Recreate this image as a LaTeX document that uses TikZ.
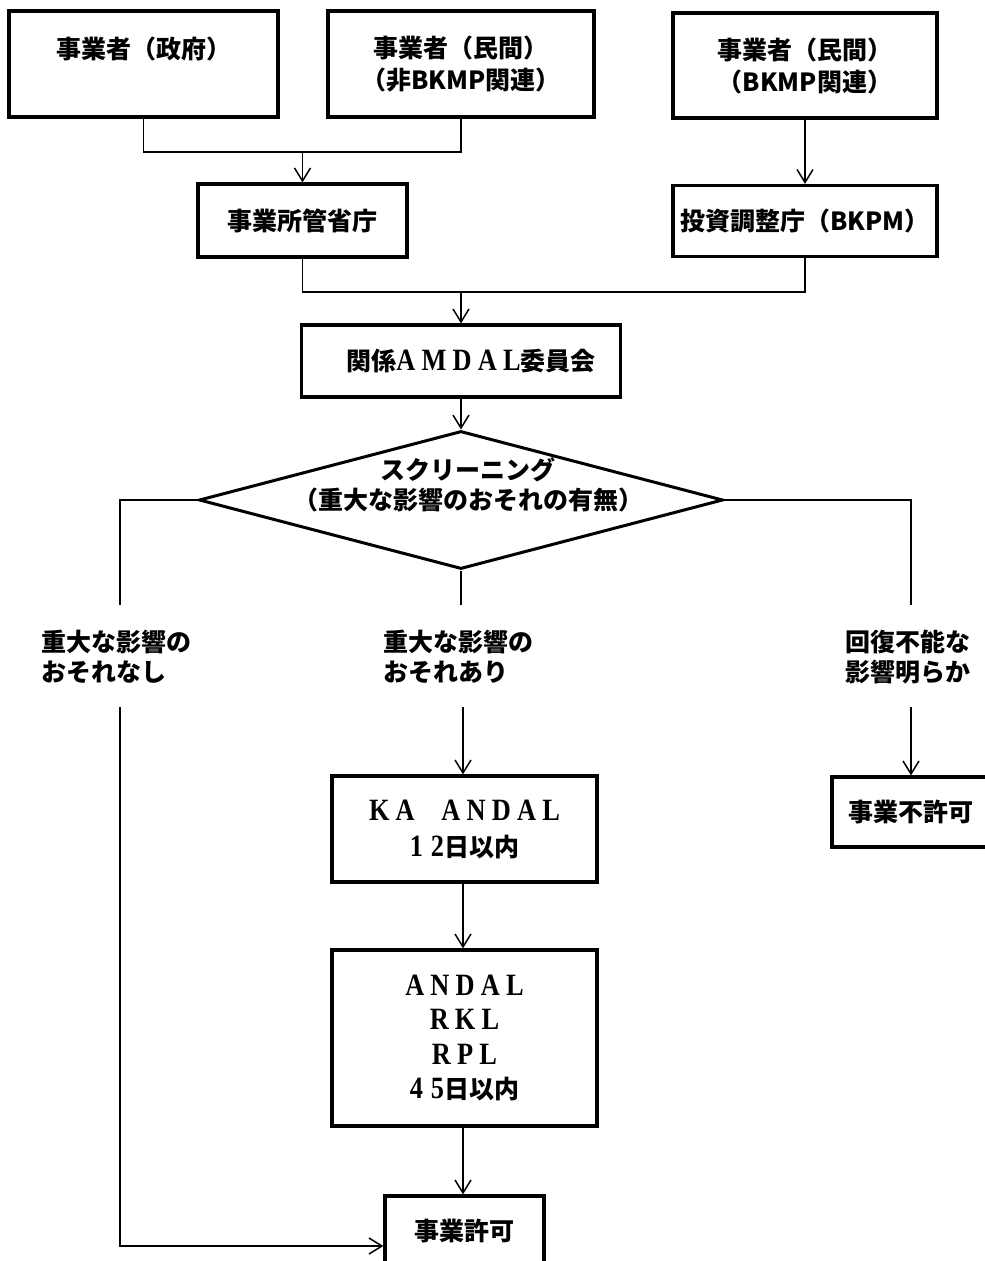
\documentclass[tikz,border=0pt]{standalone}
\usepackage{fontspec}
\setmainfont{Noto Sans CJK JP}
\newfontfamily\latfont{Liberation Serif}[LetterSpace=20,FakeStretch=0.85]
\newcommand\lt[1]{{\latfont\bfseries\fontsize{31}{31}\selectfont #1}}
\usetikzlibrary{shapes.geometric,arrows.meta}
\begin{document}
\begin{tikzpicture}[x=1pt,y=-1pt,
  font=\fontsize{25}{32}\selectfont\bfseries,
  box/.style={draw, line width=3.2pt, inner sep=0pt, align=center},
  conn/.style={line width=1.5pt},
  arr/.style={conn, -{Straight Barb[length=13pt,width=16pt]}},
  lbl/.style={align=left, anchor=west, inner sep=0pt, font=\fontsize{25}{30}\selectfont\bfseries}]
\fill[white] (0,0) rectangle (985,1261);
\useasboundingbox (0,0) rectangle (985,1261);
\clip (0,0) rectangle (985,1261);
% boxes
\node[box, minimum width=269pt, minimum height=106pt] (b1) at (143.5,64) {事業者（政府）\\\mbox{}};
\node[box, minimum width=266pt, minimum height=106pt] (b2) at (461,64) {事業者（民間）\\（非BKMP関連）};
\node[box, minimum width=264pt, minimum height=105pt] (b3) at (805,65.5) {事業者（民間）\\（BKMP関連）};
\node[box, minimum width=209pt, minimum height=73pt] (kansho) at (302.5,220.5) {事業所管省庁};
\node[box, minimum width=264pt, minimum height=71pt] (bkpm) at (805,221) {投資調整庁（BKPM）};
\node[box, minimum width=319pt, minimum height=72pt] (amdal) at (461,361) {\hspace*{20pt}関係\lt{AMDAL}委員会};
\node[draw, diamond, line width=3pt, minimum width=524pt, minimum height=138pt, inner sep=0pt] (scr) at (461,500) {};
\node[align=center, inner sep=0pt, font=\fontsize{25}{30}\selectfont\bfseries] (scrtext) at (468,485) {スクリーニング\\（重大な影響のおそれの有無）};
\node[box, minimum width=265pt, minimum height=106pt, font=\fontsize{25}{36}\selectfont\bfseries] (ka) at (464.5,829) {\lt{KA\hspace{14pt} ANDAL}\\\lt{1\hspace{8pt}2}日以内};
\node[box, minimum width=265pt, minimum height=176pt, font=\fontsize{25}{34.5}\selectfont\bfseries] (andal) at (464.5,1038) {\lt{ANDAL}\\\lt{RKL}\\\lt{RPL}\\\lt{4\hspace{8pt}5}日以内};
\node[box, minimum width=159pt, minimum height=100pt] (permit) at (464.5,1246) {事業許可\\\mbox{}};
\node[box, minimum width=158pt, minimum height=70pt] (nopermit) at (911,812) {事業不許可};
% labels
\node[lbl] (lL) at (41,657) {重大な影響の\\おそれなし};
\node[lbl] (lM) at (383,657) {重大な影響の\\おそれあり};
\node[lbl] (lR) at (845,657) {回復不能な\\影響明らか};
% junction coordinates
\coordinate (j1) at (302.5,152);
\coordinate (j2) at (461,292);
\coordinate (lA) at (120,605);
\coordinate (lB) at (120,707);
\coordinate (mA) at (461,605);
\coordinate (mB) at (463,707);
\coordinate (rA) at (911,605);
\coordinate (rB) at (911,707);
% connectors
\draw[conn] (b1.south) |- (j1) -| (b2.south);
\draw[arr] (j1) -- (kansho.north);
\draw[arr] (b3.south) -- (bkpm.north);
\draw[conn] (kansho.south) |- (j2) -| (bkpm.south);
\draw[arr] (j2) -- (amdal.north);
\draw[arr] (amdal.south) -- (scr.north);
\draw[conn] (scr.west) -| (lA);
\draw[conn] (scr.south) -- (mA);
\draw[conn] (scr.east) -| (rA);
\draw[arr] (lB) |- (permit.west);
\draw[arr] (mB) -- (mB |- ka.north);
\draw[arr] (ka.south -| mB) -- (mB |- andal.north);
\draw[arr] (andal.south -| mB) -- (mB |- permit.north);
\draw[arr] (rB) -- (nopermit.north);
\end{tikzpicture}
\end{document}
